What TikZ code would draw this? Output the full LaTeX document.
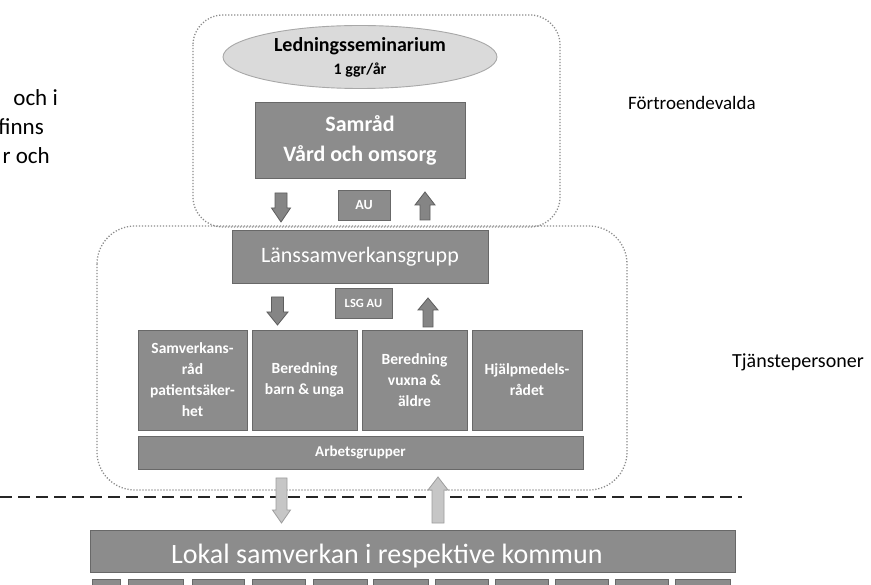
\documentclass[tikz,border=0pt]{standalone}
\usepackage{fontspec}
\setmainfont{Carlito}
\usetikzlibrary{shapes.geometric}
\definecolor{boxfill}{HTML}{8C8C8C}
\definecolor{boxline}{HTML}{686868}
\definecolor{ellfill}{HTML}{DADADA}
\definecolor{ellline}{HTML}{A8A8A8}
\definecolor{contline}{HTML}{8C8C8C}
\definecolor{lightarr}{HTML}{C6C6C6}
\definecolor{lightarrline}{HTML}{9E9E9E}
\definecolor{darkarr}{HTML}{858585}
\definecolor{darkarrline}{HTML}{5E5E5E}
\newcommand\fsz[2]{\fontsize{#1}{#2}\selectfont}
% block arrow pointing down: style, xc, ytop, ybottom(tip), shaft half, head half, head length
\newcommand\blockdown[7]{\draw[#1] ({#2-#5},{#3}) -- ({#2+#5},{#3}) -- ({#2+#5},{#4-#7}) -- ({#2+#6},{#4-#7}) -- ({#2},{#4}) -- ({#2-#6},{#4-#7}) -- ({#2-#5},{#4-#7}) -- cycle;}
% block arrow pointing up: style, xc, ytip, ybottom, shaft half, head half, head length
\newcommand\blockup[7]{\draw[#1] ({#2-#5},{#4}) -- ({#2+#5},{#4}) -- ({#2+#5},{#3+#7}) -- ({#2+#6},{#3+#7}) -- ({#2},{#3}) -- ({#2-#6},{#3+#7}) -- ({#2-#5},{#3+#7}) -- cycle;}
\begin{document}
\begin{tikzpicture}[x=1pt,y=-1pt,
  gbox/.style={draw=boxline, fill=boxfill, line width=0.9pt, text=white, inner sep=0pt, align=center},
  container/.style={draw=contline, line width=1.3pt, dash pattern=on 1.2pt off 1.8pt},
  darrow/.style={fill=darkarr, draw=darkarrline, line width=0.8pt, line join=miter},
  larrow/.style={fill=lightarr, draw=lightarrline, line width=0.8pt, line join=miter},
  plain/.style={inner sep=0pt, text=black},
  boxtext/.style={font=\bfseries\fsz{15.5}{21}}
]
\useasboundingbox (0,0) rectangle (871,585);
\fill[white] (0,0) rectangle (871,585);

% fragments of cut-off text at left
\node[plain, anchor=base east, font=\fsz{23}{28}] (fragA) at (58,106) {och i};
\node[plain, anchor=base east, font=\fsz{23}{28}] (fragB) at (44,135) {finns};
\node[plain, anchor=base east, font=\fsz{23}{28}] (fragC) at (50,164) {r och};

% containers
\draw[container, rounded corners=30pt] (193,15) rectangle (560,227);
\draw[container, rounded corners=38pt] (97,226) rectangle (627,490);

% top part
\node[ellipse, draw=ellline, fill=ellfill, line width=0.9pt, minimum width=274pt, minimum height=63pt, inner sep=0pt, align=center, font=\bfseries\fsz{20}{23}] (seminar) at (360,57) {Ledningsseminarium\\{\fsz{16}{20}1 ggr/år}};

\node[gbox, minimum width=210pt, minimum height=76pt, font=\bfseries\fsz{22}{30}] (samrad) at (360,140) {Samråd\\Vård och omsorg};
\node[gbox, minimum width=52pt, minimum height=30pt, font=\bfseries\fsz{14}{16}] (au) at (364,205) {AU};
\blockdown{darrow}{281}{193}{222}{6}{9.5}{14}
\blockup{darrow}{425}{192}{220}{5}{10}{13}

% middle part
\node[gbox, minimum width=256pt, minimum height=53pt, font=\fsz{22}{26}] (lsg) at (360,256.5) {Länssamverkansgrupp};
\node[gbox, minimum width=57pt, minimum height=30pt, font=\bfseries\fsz{12.5}{15}] (lsgau) at (363.5,303) {LSG AU};
\blockdown{darrow}{277.5}{297}{325}{6}{10.5}{13}
\blockup{darrow}{428}{298}{327}{5}{10}{12}

\node[gbox, boxtext, minimum width=109pt, minimum height=100pt] (b1) at (192.5,380) {Samverkans-\\råd\\patientsäker-\\het};
\node[gbox, boxtext, minimum width=105pt, minimum height=100pt] (b2) at (304.5,380) {Beredning\\barn \& unga};
\node[gbox, boxtext, minimum width=105pt, minimum height=100pt] (b3) at (414.5,380) {Beredning\\vuxna \&\\äldre};
\node[gbox, boxtext, minimum width=110pt, minimum height=100pt] (b4) at (527,380) {Hjälpmedels-\\rådet};
\node[gbox, minimum width=445pt, minimum height=33pt, font=\bfseries\fsz{15}{18}] (arb) at (360.5,452.5) {Arbetsgrupper};

% side labels
\node[plain, anchor=base west, font=\fsz{19}{23}] (fv) at (628,110) {Förtroendevalda};
\node[plain, anchor=base west, font=\fsz{20}{24}] (tp) at (732,368) {Tjänstepersoner};

% dashed divider
\coordinate (dashL) at (0,497);
\coordinate (dashR) at (742,497);
\draw[black!85, line width=1.8pt, dash pattern=on 12pt off 6pt] (dashL) -- (dashR);

% arrows between levels
\blockdown{larrow}{281.5}{478}{523}{5.5}{9}{13}
\blockup{larrow}{438}{477}{523}{6}{10}{13}

% local level
\node[gbox, minimum width=645pt, minimum height=42pt] (lokal) at (412.5,551) {};
\node[plain, text=white, anchor=base west, font=\fsz{28}{32}] (lokaltext) at (171,563) {Lokal samverkan i respektive kommun};
\foreach \a/\b [count=\i] in {92/120,128/183,192/244,252/305,313/367,373/428,435/488,495/548,555/608,615/668,675/730}{
  \node[gbox, anchor=north west, minimum width={(\b-\a)*1pt}, minimum height=24pt] (k\i) at (\a,579) {};
}
\end{tikzpicture}
\end{document}
